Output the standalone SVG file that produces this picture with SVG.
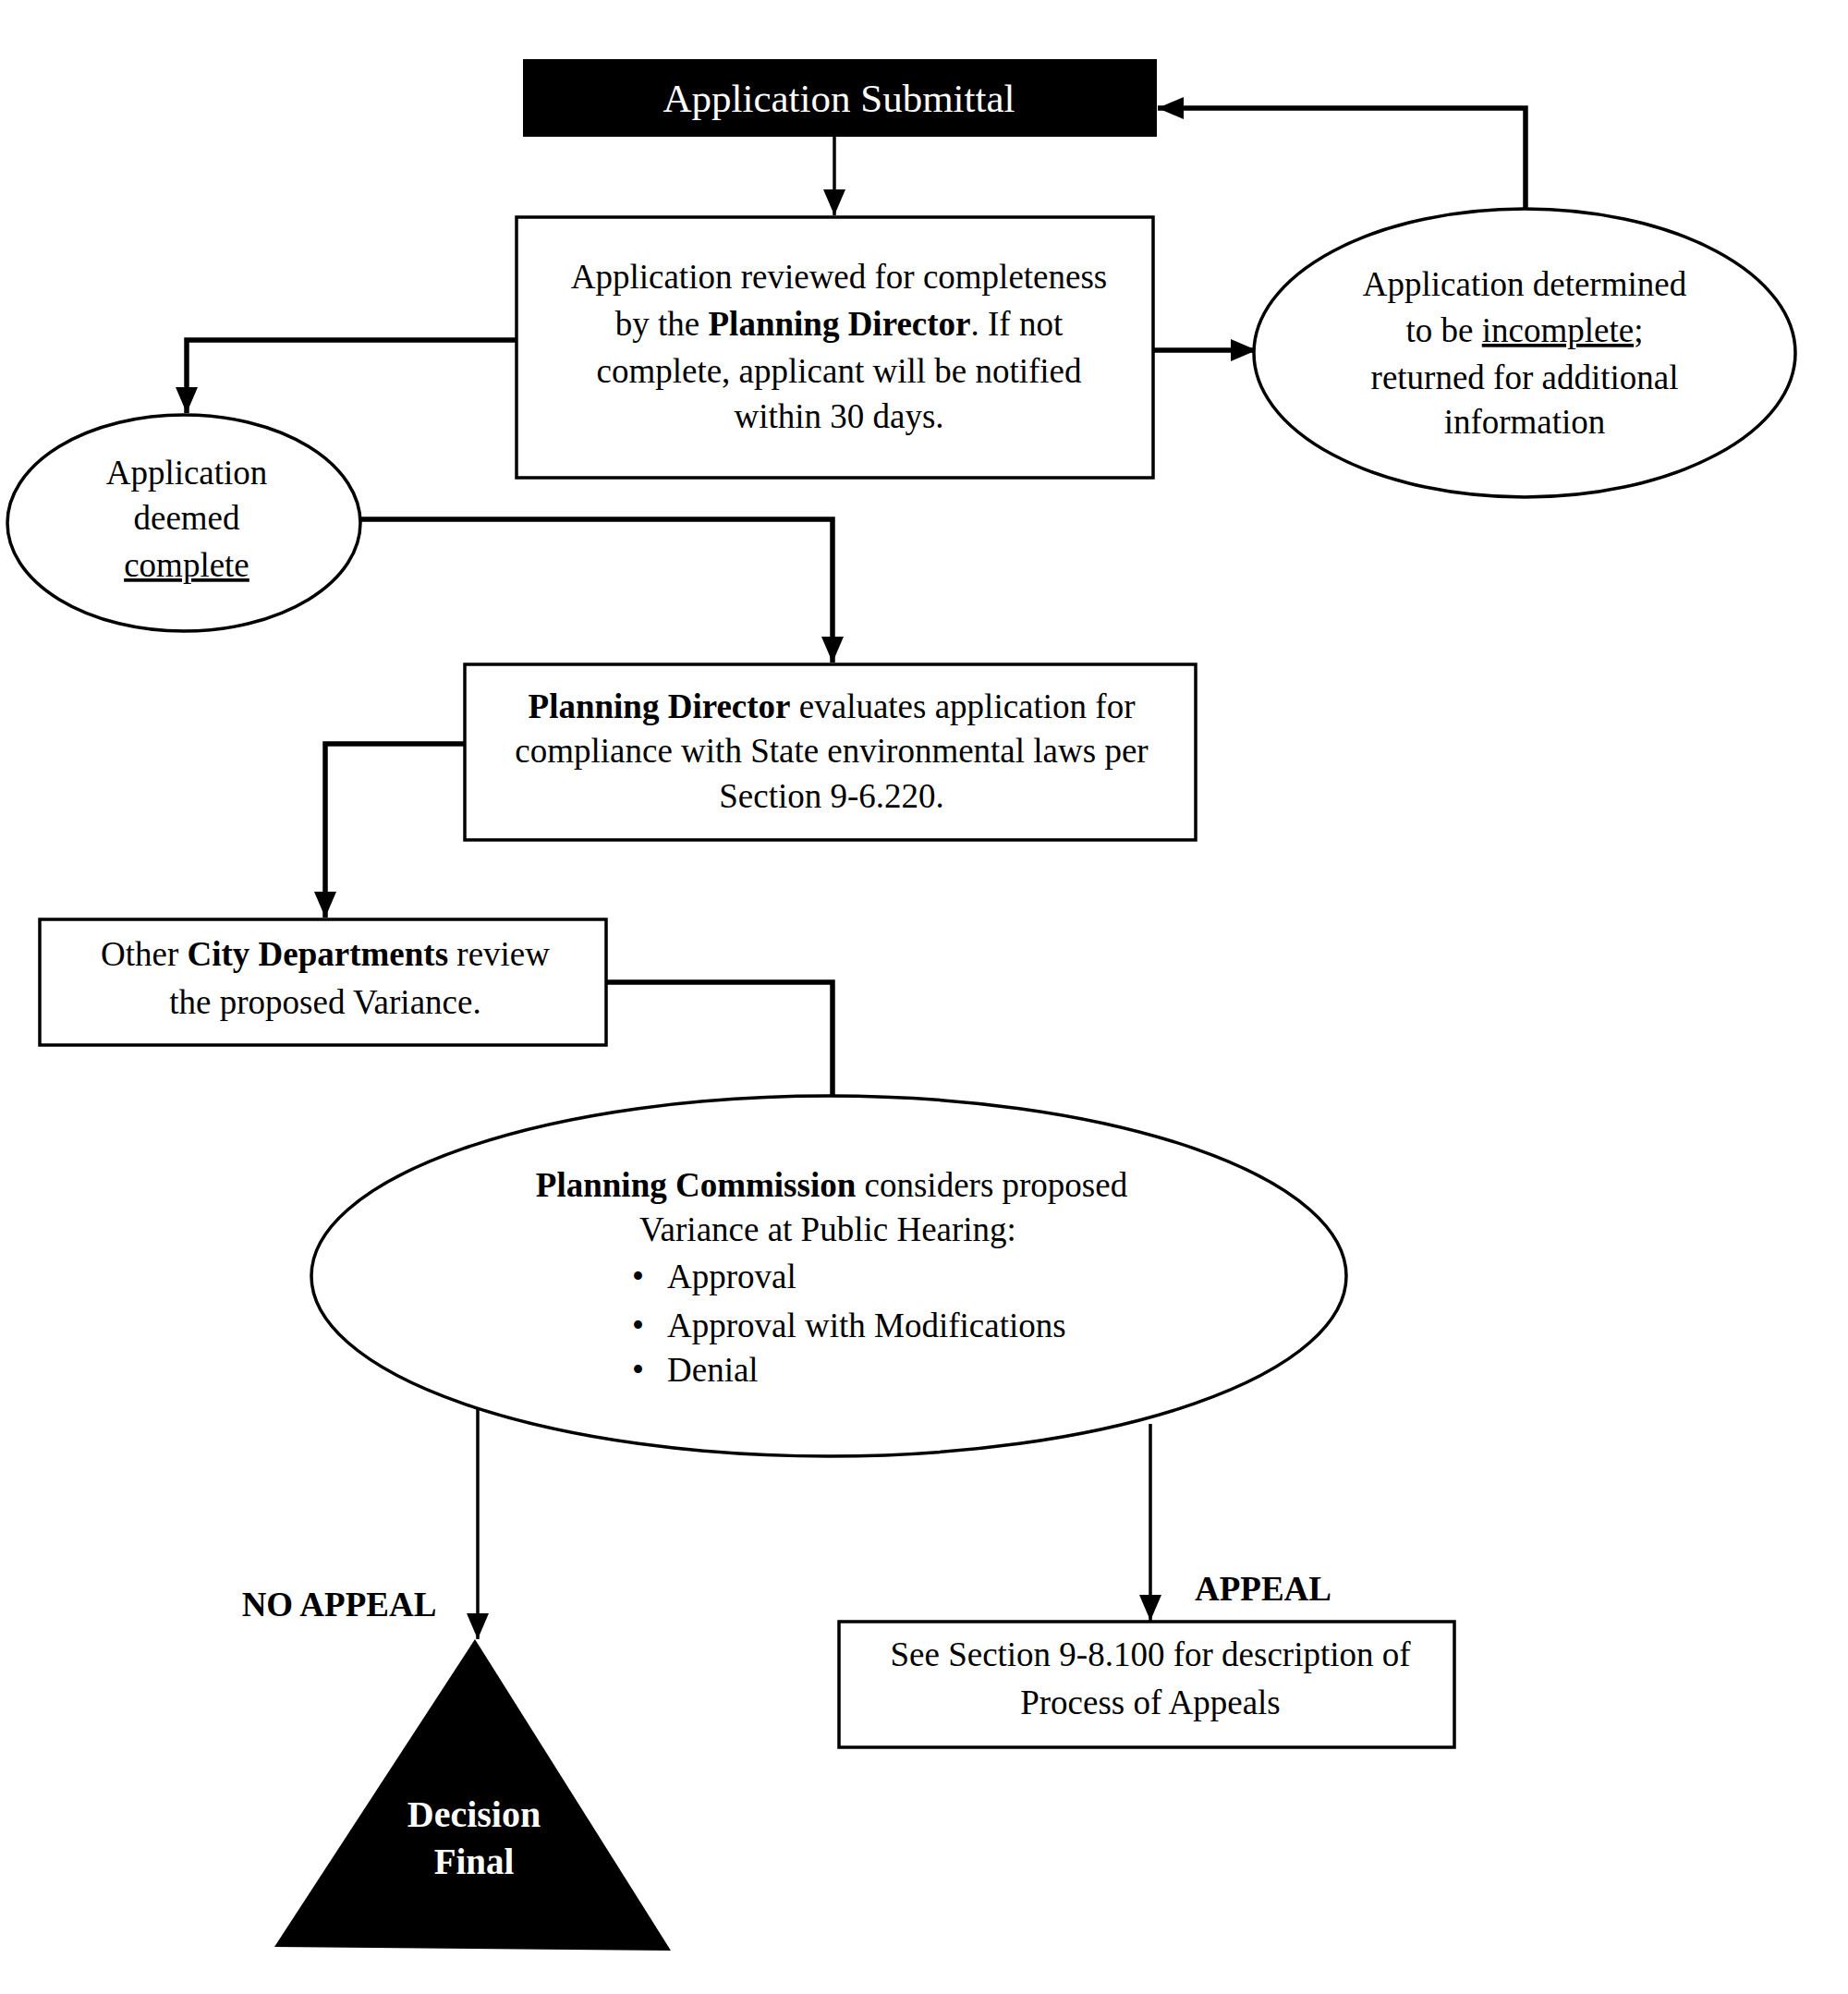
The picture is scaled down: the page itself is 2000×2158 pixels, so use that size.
<svg xmlns="http://www.w3.org/2000/svg" width="2000" height="2158" viewBox="0 0 2000 2158">
<style>
.t{font-family:"Liberation Serif","Times New Roman",serif;font-size:37px;fill:#000;text-anchor:middle}
.w{fill:#fff}
.b{font-weight:bold}
.s{text-anchor:start}
.box{fill:#fff;stroke:#000;stroke-width:3.5}
.ln{fill:none;stroke:#000;stroke-width:3.5}
.thick{stroke-width:5.5}
.u{text-decoration:underline}
</style>
<defs>
<marker id="ah" markerUnits="userSpaceOnUse" markerWidth="30" markerHeight="24" refX="28" refY="12" orient="auto">
<path d="M0,0 L28,12 L0,24 Z" fill="#000"/>
</marker>
</defs>
<rect width="2000" height="2158" fill="#fff"/>
<g id="connectors">
<path class="ln" d="M903,148 V233" marker-end="url(#ah)"/>
<path class="ln thick" d="M1248,379 H1360" marker-end="url(#ah)"/>
<path class="ln thick" d="M1651,226 V117 H1253" marker-end="url(#ah)"/>
<path class="ln thick" d="M559,368 H202 V447" marker-end="url(#ah)"/>
<path class="ln thick" d="M390,562 H901 V717" marker-end="url(#ah)"/>
<path class="ln thick" d="M503,805 H352 V993" marker-end="url(#ah)"/>
<path class="ln thick" d="M656,1063 H901 V1186"/>
<path class="ln" d="M517,1524 V1774" marker-end="url(#ah)"/>
<path class="ln" d="M1245,1541 V1754" marker-end="url(#ah)"/>
<text class="t b" x="367" y="1749">NO APPEAL</text>
<text class="t b" x="1367" y="1732">APPEAL</text>
</g>
<g id="submittal">
<rect x="566" y="64" width="686" height="84" fill="#000"/>
<text class="t w" x="908" y="121" style="font-size:43px">Application Submittal</text>
</g>
<g id="review">
<rect class="box" x="559" y="235" width="689" height="282"/>
<text class="t" x="908" y="312">Application reviewed for completeness</text>
<text class="t" x="908" y="363">by the <tspan class="b">Planning Director</tspan>.  If not</text>
<text class="t" x="908" y="414">complete, applicant will be notified</text>
<text class="t" x="908" y="463">within 30 days.</text>
</g>
<g id="incomplete">
<ellipse class="box" cx="1650" cy="382" rx="293" ry="156"/>
<text class="t" x="1650" y="320">Application determined</text>
<text class="t" x="1650" y="370">to be <tspan class="u">incomplete</tspan>;</text>
<text class="t" x="1650" y="421">returned for additional</text>
<text class="t" x="1650" y="469">information</text>
</g>
<g id="complete">
<ellipse class="box" cx="199" cy="566" rx="191" ry="117"/>
<text class="t" x="202" y="524">Application</text>
<text class="t" x="202" y="573">deemed</text>
<text class="t" x="202" y="624"><tspan class="u">complete</tspan></text>
</g>
<g id="evaluate">
<rect class="box" x="503" y="719" width="791" height="190"/>
<text class="t" x="900" y="777"><tspan class="b">Planning Director</tspan> evaluates application for</text>
<text class="t" x="900" y="825">compliance with State environmental laws per</text>
<text class="t" x="900" y="874">Section 9-6.220.</text>
</g>
<g id="departments">
<rect class="box" x="43" y="995" width="613" height="136"/>
<text class="t" x="352" y="1045">Other <tspan class="b">City Departments</tspan> review</text>
<text class="t" x="352" y="1097">the proposed Variance.</text>
</g>
<g id="commission">
<ellipse class="box" cx="897" cy="1381" rx="560" ry="195"/>
<text class="t" x="900" y="1295"><tspan class="b">Planning Commission</tspan> considers proposed</text>
<text class="t s" x="692" y="1343">Variance at Public Hearing:</text>
<text class="t s" x="684" y="1394">•</text>
<text class="t s" x="722" y="1394">Approval</text>
<text class="t s" x="684" y="1447">•</text>
<text class="t s" x="722" y="1447">Approval with Modifications</text>
<text class="t s" x="684" y="1495">•</text>
<text class="t s" x="722" y="1495">Denial</text>
</g>
<g id="final">
<polygon points="514,1774 297,2107 726,2111" fill="#000"/>
<text class="t w b" x="513" y="1977" style="font-size:40px">Decision</text>
<text class="t w b" x="513" y="2028" style="font-size:39px">Final</text>
</g>
<g id="appeals">
<rect class="box" x="908" y="1755" width="666" height="136"/>
<text class="t" x="1245" y="1803">See Section 9-8.100 for description of</text>
<text class="t" x="1245" y="1855">Process of Appeals</text>
</g>
</svg>
